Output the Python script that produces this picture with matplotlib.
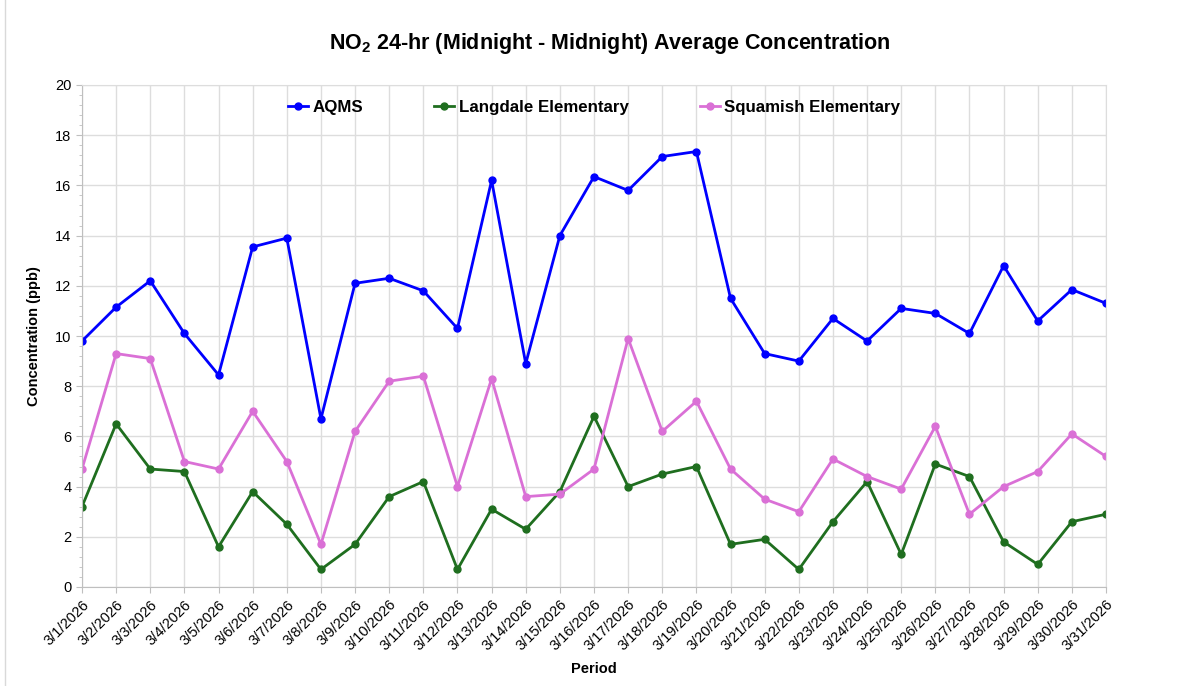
import matplotlib
matplotlib.use('Agg')
import matplotlib.pyplot as plt
from matplotlib.ticker import MultipleLocator
from matplotlib.lines import Line2D

plt.rcParams['font.family'] = ['Liberation Sans', 'DejaVu Sans']
plt.rcParams['mathtext.fontset'] = 'custom'
plt.rcParams['mathtext.rm'] = 'Liberation Sans'
plt.rcParams['mathtext.bf'] = 'Liberation Sans:bold'

dates = ['3/%d/2026' % d for d in range(1, 32)]

aqms = [9.8, 11.15, 12.2, 10.1, 8.45, 13.55, 13.9, 6.7, 12.1, 12.3, 11.8,
        10.3, 16.2, 8.9, 14.0, 16.35, 15.8, 17.15, 17.35, 11.5, 9.3, 9.0,
        10.7, 9.8, 11.1, 10.9, 10.1, 12.8, 10.6, 11.85, 11.3]
langdale = [3.2, 6.5, 4.7, 4.6, 1.6, 3.8, 2.5, 0.7, 1.7, 3.6, 4.2,
            0.7, 3.1, 2.3, 3.8, 6.8, 4.0, 4.5, 4.8, 1.7, 1.9, 0.7,
            2.6, 4.2, 1.3, 4.9, 4.4, 1.8, 0.9, 2.6, 2.9]
squamish = [4.7, 9.3, 9.1, 5.0, 4.7, 7.0, 5.0, 1.7, 6.2, 8.2, 8.4,
            4.0, 8.3, 3.6, 3.7, 4.7, 9.9, 6.2, 7.4, 4.7, 3.5, 3.0,
            5.1, 4.4, 3.9, 6.4, 2.9, 4.0, 4.6, 6.1, 5.2]

fig = plt.figure(figsize=(11.81, 6.86), dpi=100)
ax = fig.add_axes([82 / 1181, 1 - 587 / 686, 1024 / 1181, 502 / 686])

x = range(len(dates))
ax.plot(x, aqms, color='#0000FF', lw=2, marker='o', ms=5, label='AQMS')
ax.plot(x, langdale, color='#1F6E1F', lw=2, marker='o', ms=5, label='Langdale Elementary')
ax.plot(x, squamish, color='#DA70D6', lw=2, marker='o', ms=5, label='Squamish Elementary')

ax.set_xlim(0, len(dates) - 1)
ax.set_ylim(0, 20)
ax.set_xticks(list(x))
ax.set_xticklabels(dates, rotation=45, ha='right', rotation_mode='anchor', fontsize=10.5)
ax.yaxis.set_major_locator(MultipleLocator(2))
ax.yaxis.set_minor_locator(MultipleLocator(0.4))
ax.tick_params(axis='y', labelsize=10.5, length=4, color='#BFBFBF')
ax.tick_params(axis='y', which='minor', length=2.5, color='#BFBFBF')
ax.tick_params(axis='x', length=4, color='#BFBFBF')

ax.grid(True, which='major', color='#DDDDDD', lw=1)
ax.set_axisbelow(True)
for s in ax.spines.values():
    s.set_color('#DDDDDD')
ax.spines['left'].set_color('#BFBFBF')
ax.spines['bottom'].set_color('#BFBFBF')

ax.set_ylabel('Concentration (ppb)', fontsize=10.5, fontweight='bold', labelpad=10)
ax.set_xlabel('Period', fontsize=10.5, fontweight='bold', labelpad=6)

# title with subscript 2
fig.text(0.516, 1 - 43 / 686, r'NO$_{\mathbf{2}}$ 24-hr (Midnight - Midnight) Average Concentration',
         ha='center', va='center', fontsize=15.5, fontweight='bold')

ax.legend(loc='upper center', bbox_to_anchor=(0.5, 1.0), ncol=3, frameon=False,
          prop={'weight': 'bold', 'size': 12.2}, columnspacing=4.2,
          handlelength=1.2, handletextpad=0.25)

fig.add_artist(Line2D([5 / 1181, 5 / 1181], [0, 1], color='#D9D9D9', lw=1))

fig.savefig('out.png', dpi=100)
